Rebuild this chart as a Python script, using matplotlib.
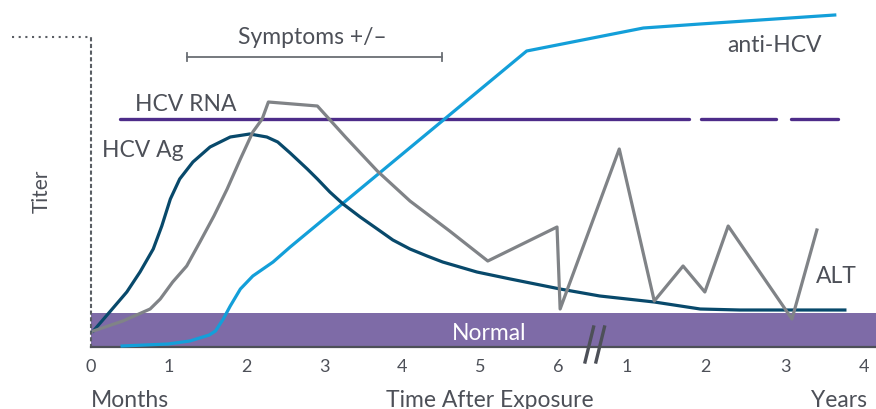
import matplotlib
matplotlib.use("Agg")
import matplotlib.pyplot as plt

plt.rcParams['font.family'] = ['Lato', 'DejaVu Sans']

# x in tick units: months 0-6, then years after the axis break
month_ticks = [0, 1, 2, 3, 4, 5, 6]
year_ticks = [6.88, 7.9, 8.92, 9.93]
tick_labels = ["0", "1", "2", "3", "4", "5", "6", "1", "2", "3", "4"]

# titer, arbitrary units (0 = bottom, normal range up to 34)
alt_x = [0.03, 0.41, 0.76, 0.89, 1.05, 1.23, 1.40, 1.58, 1.75, 1.92, 2.08, 2.20, 2.28,
         2.91, 3.27, 3.68, 4.10, 4.61, 5.10,
         5.99, 6.03, 6.79, 7.24, 7.61, 7.89, 8.19, 9.01, 9.33]
alt_y = [16, 26, 38, 48, 65, 81, 105, 131, 158, 188, 215, 228, 245,
         241, 210, 176, 146, 116, 86,
         120, 38, 198, 46, 81, 55, 121, 28, 117]

ag_x = [0.03, 0.24, 0.46, 0.63, 0.80, 0.91, 1.02, 1.14, 1.31, 1.53, 1.79, 2.04, 2.26,
        2.40, 2.56, 2.78, 2.91, 3.07, 3.24, 3.46, 3.68, 3.88, 4.10, 4.32, 4.52, 4.96, 5.39,
        6.03, 6.54, 7.24, 7.83, 8.34, 9.69]
ag_y = [16, 35, 55, 75, 98, 121, 148, 168, 185, 200, 210, 213, 210,
        205, 194, 178, 168, 155, 143, 130, 118, 107, 98, 91, 85, 75, 68,
        58, 51, 45, 38, 37, 37]

anti_x = [0.40, 0.99, 1.27, 1.52, 1.60, 1.70, 1.79, 1.92, 2.08, 2.34, 2.56, 5.60, 7.10, 7.83, 9.56]
anti_y = [1, 3, 6, 12, 16, 28, 41, 58, 71, 85, 100, 296, 319, 323, 332]

rna_level = 228
rna_segments = [(0.37, 7.69), (7.84, 8.80), (9.00, 9.60)]

normal_top = 34
symptoms = (1.23, 4.51)
symptoms_level = 290

text_c = "#4d5058"
fs = 16.5
fig = plt.figure(figsize=(8.76, 4.10), dpi=100)
ax = fig.add_axes([91 / 876, 62 / 410, 785 / 876, 310 / 410])
ax.set_xlim(0, 10.09)
ax.set_ylim(0, 310)

# normal band
ax.axhspan(0, normal_top, color="#7e6ba7", lw=0, zorder=1)
ax.text(5.12, 8, "Normal", color="white", fontsize=fs, ha="center", va="baseline", zorder=5)

# curves
for a, b in rna_segments:
    ax.plot([a, b], [rna_level, rna_level], color="#4d2c89", lw=2.4, solid_capstyle="round", zorder=3)
ax.plot(anti_x, anti_y, color="#139fd9", lw=2.3, zorder=4, clip_on=False)
ax.plot(ag_x, ag_y, color="#08496b", lw=2.3, zorder=4)
ax.plot(alt_x, alt_y, color="#808387", lw=2.3, zorder=4)

# symptoms bracket
ax.plot(symptoms, [symptoms_level] * 2, color="#6a6e74", lw=1.3, zorder=3)
for sx in symptoms:
    ax.plot([sx, sx], [symptoms_level - 4, symptoms_level + 4], color="#6a6e74", lw=1.3)
ax.text(sum(symptoms) / 2 - 0.02, 304, "Symptoms +/\u2013", color=text_c, fontsize=fs,
        ha="center", va="baseline")

# series labels
ax.text(1.22, 237, "HCV RNA", color=text_c, fontsize=fs, ha="center", va="baseline")
ax.text(0.67, 191, "HCV Ag", color=text_c, fontsize=fs, ha="center", va="baseline")
ax.text(8.78, 296, "anti-HCV", color=text_c, fontsize=fs, ha="center", va="baseline")
ax.text(9.58, 65, "ALT", color=text_c, fontsize=fs, ha="center", va="baseline")

# axes
for s in ["top", "right"]:
    ax.spines[s].set_visible(False)
ax.spines["bottom"].set_color(text_c)
ax.spines["bottom"].set_linewidth(1.6)
ax.spines["left"].set_color("#5a5e64")
ax.spines["left"].set_linestyle((0, (1, 2.2)))
ax.spines["left"].set_linewidth(1.5)
ax.plot([-1.015, 0], [310, 310], color="#5a5e64", lw=1.5, ls=(0, (1, 2.2)), clip_on=False)

ax.set_xticks(month_ticks + year_ticks, tick_labels)
ax.tick_params(axis="x", length=0, pad=8, labelsize=13, labelcolor=text_c)
ax.set_yticks([])

# axis break
for bx in [6.35, 6.49]:
    ax.plot([bx, bx + 0.11], [-15, 20], color=text_c, lw=2.4, clip_on=False, zorder=6)

ax.text(-0.63, 157, "Titer", color=text_c, fontsize=15, rotation=90, ha="center", va="center")
ax.text(0, -59, "Months", color=text_c, fontsize=fs, ha="left", va="baseline")
ax.text(5.12, -59, "Time After Exposure", color=text_c, fontsize=fs, ha="center", va="baseline")
ax.text(9.97, -59, "Years", color=text_c, fontsize=fs, ha="right", va="baseline")

fig.savefig("out.png", dpi=100)
